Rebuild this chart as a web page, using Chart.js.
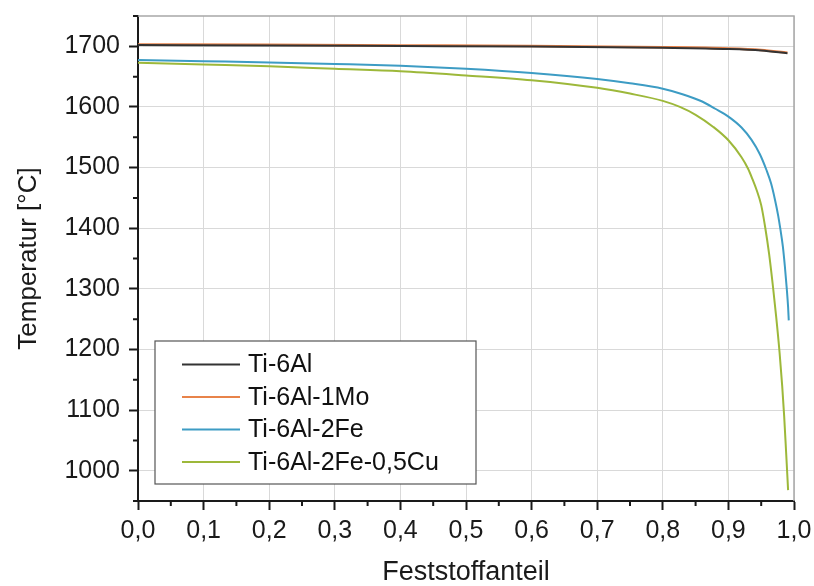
<!DOCTYPE html>
<html>
<head>
<meta charset="utf-8">
<script src="https://cdn.jsdelivr.net/npm/chart.js@4/dist/chart.umd.min.js"></script>
<style>
  body { margin: 0; background: #fff; }
  canvas { display: block; }
</style>
</head>
<body>
<canvas id="solidChart" width="814" height="586"></canvas>
<script>
// Erstarrungskurven: Temperatur ueber Feststoffanteil

const seriesNames = ['Ti-6Al', 'Ti-6Al-1Mo', 'Ti-6Al-2Fe', 'Ti-6Al-2Fe-0,5Cu'];
const seriesColors = ['#333333', '#e8834a', '#3d9cc4', '#9db83a'];

const xTi6Al = [0, 0.2, 0.4, 0.6, 0.8, 0.9, 0.95, 0.99];
const yTi6Al = [1702, 1701.5, 1700.5, 1699.5, 1697.5, 1695.5, 1693, 1688.5];

const xTi6Al1Mo = [0, 0.2, 0.4, 0.6, 0.8, 0.9, 0.95, 0.99];
const yTi6Al1Mo = [1703, 1702.5, 1701.5, 1700.5, 1698.5, 1696.5, 1694, 1689.5];

const xTi6Al2Fe = [0, 0.1, 0.2, 0.3, 0.4, 0.5, 0.6, 0.7, 0.75, 0.8, 0.83, 0.86, 0.88, 0.9, 0.92, 0.935, 0.948, 0.958, 0.965, 0.971, 0.976, 0.979, 0.983, 0.986, 0.989, 0.991, 0.992];
const yTi6Al2Fe = [1677.5, 1675.5, 1673.5, 1671, 1668, 1663, 1656, 1646, 1639, 1630, 1621, 1609, 1597, 1584, 1566, 1546, 1522, 1496, 1474, 1447, 1420, 1400, 1370, 1338, 1300, 1270, 1248];

const xTi6Al2FeCu = [0, 0.1, 0.2, 0.3, 0.4, 0.5, 0.6, 0.7, 0.75, 0.8, 0.826, 0.85, 0.877, 0.9, 0.92, 0.93, 0.937, 0.943, 0.95, 0.956, 0.962, 0.968, 0.973, 0.978, 0.982, 0.985, 0.988, 0.991];
const yTi6Al2FeCu = [1673, 1670, 1667, 1663, 1659, 1652, 1644, 1631.5, 1622, 1610, 1600, 1587, 1567, 1545, 1517, 1498, 1480, 1463, 1438, 1402, 1358, 1303, 1252, 1195, 1140, 1090, 1030, 968];

const xTicks = [0, 0.1, 0.2, 0.3, 0.4, 0.5, 0.6, 0.7, 0.8, 0.9, 1.0];
const xTickLabels = ['0,0', '0,1', '0,2', '0,3', '0,4', '0,5', '0,6', '0,7', '0,8', '0,9', '1,0'];
const yTicks = [1000, 1100, 1200, 1300, 1400, 1500, 1600, 1700];
const yTickLabels = ['1000', '1100', '1200', '1300', '1400', '1500', '1600', '1700'];

function toPoints(xs, ys) {
    return xs.map((x, i) => ({ x: x, y: ys[i] }));
}

const seriesData = [
    toPoints(xTi6Al, yTi6Al),
    toPoints(xTi6Al1Mo, yTi6Al1Mo),
    toPoints(xTi6Al2Fe, yTi6Al2Fe),
    toPoints(xTi6Al2FeCu, yTi6Al2FeCu)
];

const FONT = 'Liberation Sans, Arial, sans-serif';

// Rahmen oben/rechts, Nebenteilstriche und Legende im Diagramm
const framePlugin = {
    id: 'frame',
    beforeDatasetsDraw(chart) {
        const { ctx, chartArea: a } = chart;
        ctx.save();
        ctx.strokeStyle = '#a8a8a8';
        ctx.lineWidth = 1.5;
        ctx.beginPath();
        ctx.moveTo(a.left, a.top);
        ctx.lineTo(a.right, a.top);
        ctx.lineTo(a.right, a.bottom);
        ctx.stroke();
        ctx.restore();
    },
    afterDraw(chart) {
        const { ctx, chartArea: a, scales } = chart;
        ctx.save();
        ctx.strokeStyle = '#1a1a1a';
        ctx.lineWidth = 2;
        ctx.beginPath();
        for (let i = 0; i < xTicks.length - 1; i++) {
            const px = scales.x.getPixelForValue((xTicks[i] + xTicks[i + 1]) / 2);
            ctx.moveTo(px, a.bottom);
            ctx.lineTo(px, a.bottom + 5);
        }
        const yMinor = [yTicks[0] - 50].concat(yTicks.map(v => v + 50));
        yMinor.forEach(v => {
            const py = scales.y.getPixelForValue(v);
            ctx.moveTo(a.left, py);
            ctx.lineTo(a.left - 5, py);
        });
        ctx.stroke();

        // Legende
        const box = { x: 155, y: 341, w: 321, h: 143 };
        ctx.fillStyle = '#fff';
        ctx.fillRect(box.x, box.y, box.w, box.h);
        ctx.strokeStyle = '#555';
        ctx.lineWidth = 1.2;
        ctx.strokeRect(box.x, box.y, box.w, box.h);
        ctx.font = '25px ' + FONT;
        ctx.textBaseline = 'middle';
        ctx.textAlign = 'left';
        chart.data.datasets.forEach((ds, i) => {
            const yy = box.y + 23.5 + i * 32.5;
            ctx.strokeStyle = ds.borderColor;
            ctx.lineWidth = 2;
            ctx.beginPath();
            ctx.moveTo(182, yy);
            ctx.lineTo(240, yy);
            ctx.stroke();
            ctx.fillStyle = '#111';
            ctx.fillText(ds.label, 248, yy + 1);
        });
        ctx.restore();
    }
};

const ctx = document.getElementById('solidChart').getContext('2d');
new Chart(ctx, {
    type: 'scatter',
    data: {
        datasets: seriesNames.map((name, i) => ({
            label: name,
            data: seriesData[i],
            showLine: true,
            borderColor: seriesColors[i],
            backgroundColor: seriesColors[i],
            borderWidth: i === 1 ? 2.5 : 2,
            pointRadius: 0,
            cubicInterpolationMode: 'monotone',
            fill: false
        }))
    },
    options: {
        responsive: false,
        animation: false,
        layout: { padding: { left: 0, top: 16, right: 20, bottom: 0 } },
        plugins: {
            legend: { display: false },
            tooltip: { enabled: false }
        },
        scales: {
            x: {
                type: 'linear',
                min: 0,
                max: 1,
                afterFit: scale => {
                    scale.height = 85;
                    scale.paddingLeft = 0;
                    scale.paddingRight = 0;
                },
                afterBuildTicks: scale => { scale.ticks = xTicks.map(v => ({ value: v })); },
                grid: { color: '#d9d9d9', lineWidth: 1, tickColor: '#1a1a1a', tickLength: 9, tickWidth: 2 },
                border: { color: '#1a1a1a', width: 2 },
                ticks: {
                    color: '#1a1a1a',
                    font: { family: FONT, size: 25 },
                    padding: 6,
                    maxRotation: 0,
                    autoSkip: false,
                    callback: (v, i) => xTickLabels[i]
                },
                title: {
                    display: true,
                    text: 'Feststoffanteil',
                    color: '#1a1a1a',
                    font: { family: FONT, size: 27, lineHeight: 1 },
                    padding: { top: 0, bottom: 0 }
                }
            },
            y: {
                type: 'linear',
                min: 950,
                max: 1750,
                afterFit: scale => {
                    scale.width = 138;
                    scale.paddingTop = 0;
                    scale.paddingBottom = 0;
                },
                afterBuildTicks: scale => { scale.ticks = yTicks.map(v => ({ value: v })); },
                grid: { color: '#d9d9d9', lineWidth: 1, tickColor: '#1a1a1a', tickLength: 9, tickWidth: 2 },
                border: { color: '#1a1a1a', width: 2 },
                ticks: {
                    color: '#1a1a1a',
                    font: { family: FONT, size: 25 },
                    padding: 9,
                    autoSkip: false,
                    callback: (v, i) => yTickLabels[i]
                },
                title: {
                    display: true,
                    text: 'Temperatur [°C]',
                    color: '#1a1a1a',
                    font: { family: FONT, size: 26, lineHeight: 1 },
                    padding: { top: 16, bottom: 0 }
                }
            }
        }
    },
    plugins: [framePlugin]
});
</script>
</body>
</html>
